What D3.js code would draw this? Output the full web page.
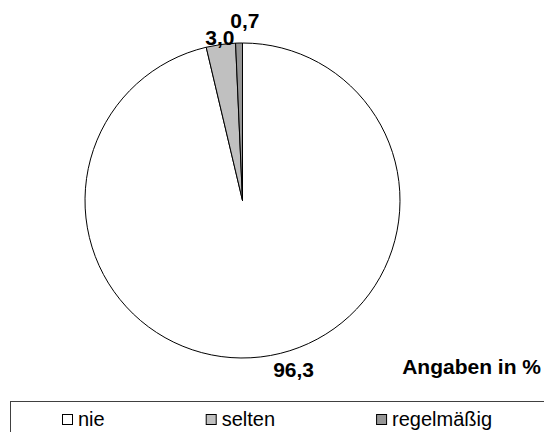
<!DOCTYPE html>
<html>
<head>
<meta charset="utf-8">
<script src="https://cdn.jsdelivr.net/npm/d3@7"></script>
<style>
  body { margin: 0; background: #fff; }
  text { font-family: "Liberation Sans", Arial, sans-serif; }
</style>
</head>
<body>
<script>
'use strict';
var categories = ['nie', 'selten', 'regelmäßig'];
var values     = [96.3, 3.0, 0.7];
var labels     = ['96,3', '3,0', '0,7'];
var fills      = ['#ffffff', '#c0c0c0', '#969696'];

var width = 544, height = 432;
var cx = 242.5, cy = 200.5, radius = 157.5;

var svg = d3.select('body').append('svg')
    .attr('width', width)
    .attr('height', height);

var data = categories.map(function(c, i) {
  return {cat: c, value: values[i], label: labels[i], fill: fills[i]};
});

var pie = d3.pie()
    .sort(null)
    .value(function(d) { return d.value; });

var arc = d3.arc()
    .innerRadius(0)
    .outerRadius(radius);

var chart = svg.append('g')
    .attr('transform', 'translate(' + cx + ',' + cy + ')');

var arcs = pie(data);

chart.selectAll('path')
    .data(arcs)
    .enter().append('path')
    .attr('d', arc)
    .attr('fill', function(d) { return d.data.fill; })
    .attr('stroke', '#000')
    .attr('stroke-width', 1);

// labels outside the slices, pushed apart when they collide
var labelArc = d3.arc()
    .innerRadius(radius + 7)
    .outerRadius(radius + 7);

var placed = [];
arcs.forEach(function(d) {
  var p = labelArc.centroid(d);
  var x = p[0], y = p[1];
  if (d.endAngle - d.startAngle > Math.PI) { // big slice: label down and right
    x += 32;
    y += 6;
  }
  placed.forEach(function(q) {
    if (Math.abs(q.x - x) < 30 && Math.abs(q.y - y) < 17) {
      y = q.y - 17;
      x += 6;
    }
  });
  placed.push({x: x, y: y, label: d.data.label});
});

chart.selectAll('text.lbl')
    .data(placed)
    .enter().append('text')
    .attr('class', 'lbl')
    .attr('x', function(d) { return d.x; })
    .attr('y', function(d) { return d.y; })
    .attr('text-anchor', 'middle')
    .attr('dominant-baseline', 'central')
    .attr('font-weight', 'bold')
    .attr('font-size', 21)
    .text(function(d) { return d.label; });

svg.append('text')
    .attr('x', 541)
    .attr('y', 374)
    .attr('text-anchor', 'end')
    .attr('font-weight', 'bold')
    .attr('font-size', 21)
    .text('Angaben in %');

// legend
var legend = svg.append('g');
legend.append('rect')
    .attr('x', 10.5)
    .attr('y', 401.5)
    .attr('width', 560)
    .attr('height', 60)
    .attr('fill', '#fff')
    .attr('stroke', '#404040');

var items = legend.selectAll('g.item')
    .data(data)
    .enter().append('g')
    .attr('class', 'item');

items.append('rect')
    .attr('x', 0.5)
    .attr('y', -5.5)
    .attr('width', 10)
    .attr('height', 10)
    .attr('fill', function(d) { return d.fill; })
    .attr('stroke', '#000');

items.append('text')
    .attr('x', 16)
    .attr('y', 6)
    .attr('font-size', 20)
    .text(function(d) { return d.cat; });

// lay items out left to right with equal gaps
var lx = 62, gap = 101;
items.each(function() {
  d3.select(this).attr('transform', 'translate(' + lx + ',420)');
  lx += 16 + this.querySelector('text').getComputedTextLength() + gap;
});
</script>
</body>
</html>
